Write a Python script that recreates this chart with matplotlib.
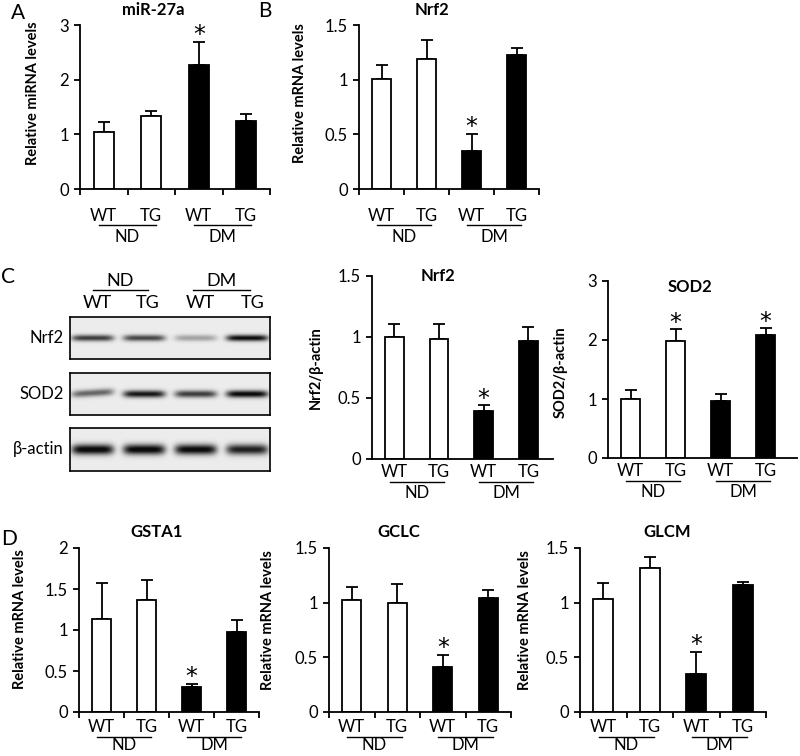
import numpy as np
import matplotlib.pyplot as plt
from matplotlib.transforms import blended_transform_factory

plt.rcParams['font.family'] = ['Lato', 'DejaVu Sans']

# --- Data ---
genotypes = ['WT', 'TG', 'WT', 'TG']
diets = ['ND', 'DM']
fills = ['white', 'white', 'black', 'black']

mir27a_mean = [1.05, 1.33, 2.27, 1.25]
mir27a_err = [0.18, 0.10, 0.41, 0.13]
mir27a_star = [False, False, True, False]

nrf2_mrna_mean = [1.01, 1.19, 0.35, 1.23]
nrf2_mrna_err = [0.12, 0.17, 0.15, 0.06]
nrf2_mrna_star = [False, False, True, False]

nrf2_prot_mean = [1.00, 0.98, 0.39, 0.97]
nrf2_prot_err = [0.11, 0.13, 0.05, 0.11]
nrf2_prot_star = [False, False, True, False]

sod2_prot_mean = [1.00, 1.99, 0.97, 2.09]
sod2_prot_err = [0.16, 0.19, 0.12, 0.11]
sod2_prot_star = [False, True, False, True]

gsta1_mean = [1.14, 1.36, 0.31, 0.97]
gsta1_err = [0.43, 0.25, 0.03, 0.15]
gsta1_star = [False, False, True, False]

gclc_mean = [1.02, 1.00, 0.41, 1.04]
gclc_err = [0.12, 0.17, 0.11, 0.08]
gclc_star = [False, False, True, False]

glcm_mean = [1.03, 1.32, 0.35, 1.16]
glcm_err = [0.15, 0.10, 0.20, 0.03]
glcm_star = [False, False, True, False]

# western blot band darkness per lane (0 = none, 1 = saturated)
blot_rows = ['Nrf2', 'SOD2', 'β-actin']
blot_nrf2 = [0.72, 0.68, 0.30, 0.92]
blot_sod2 = [0.55, 0.88, 0.72, 0.95]
blot_actin = [0.97, 0.97, 0.95, 0.85]

W, H = 800, 756
fig = plt.figure(figsize=(W / 100, H / 100), dpi=100)

FS = 12


def add_ax(l, r, t, b):
    return fig.add_axes([l / W, 1 - b / H, (r - l) / W, (b - t) / H])


def bar_panel(ax, box, mean, err, star, ymax, yticks, ylabels, title, tx, ty,
              ylabel, lx, ly, xticks=True, offs=(27, 36, 48), xr=3.5):
    l, r, t, b = box
    h = b - t
    x = np.arange(4)
    ax.bar(x, mean, width=0.42, color=fills, edgecolor='black', linewidth=1.3, zorder=2)
    ax.errorbar(x, mean, yerr=[np.zeros(4), err], fmt='none', ecolor='black',
                elinewidth=1.3, capsize=4, capthick=1.3, zorder=1)
    for i in range(4):
        if star[i]:
            ax.text(i, mean[i] + err[i] - 0.03 * ymax, '*', ha='center', va='bottom',
                    fontsize=17, family='DejaVu Sans')
    ax.set_xlim(-0.5, xr)
    ax.set_ylim(0, ymax)
    ax.set_yticks(yticks, labels=ylabels, fontsize=FS)
    for s in ['top', 'right']:
        ax.spines[s].set_visible(False)
    for s in ['left', 'bottom']:
        ax.spines[s].set_linewidth(1.3)
    ax.tick_params(axis='y', direction='out', length=4, width=1.3, pad=4)
    if xticks:
        ax.set_xticks(np.arange(-0.5, 4, 1.0), labels=[''] * 5)
        ax.tick_params(axis='x', direction='out', length=4, width=1.3)
    else:
        ax.set_xticks([])
    ax.text(tx, 1 + ty / h, title, transform=ax.transAxes, ha='center', va='center',
            fontsize=12, fontweight='bold')
    ax.set_ylabel(ylabel, fontsize=10.5, fontweight='bold')
    ax.yaxis.set_label_coords(-lx / (r - l), ly)
    tr = blended_transform_factory(ax.transData, ax.transAxes)
    for i in range(4):
        ax.text(i, -offs[0] / h, genotypes[i], transform=tr, ha='center', va='center',
                fontsize=FS)
    for k in range(2):
        x0 = 2 * k
        ax.plot([x0 - 0.1, x0 + 1.1], [-offs[1] / h] * 2, transform=tr, color='black',
                linewidth=1.0, clip_on=False)
        ax.text(x0 + 0.5, -offs[2] / h, diets[k], transform=tr, ha='center', va='center',
                fontsize=FS)


# --- Panel A ---
boxA = (80, 270, 25, 189)
axA = add_ax(*boxA)
bar_panel(axA, boxA, mir27a_mean, mir27a_err, mir27a_star, 3, [0, 1, 2, 3],
          ['0', '1', '2', '3'], 'miR-27a', 0.384, 15, 'Relative miRNA levels', 40, 0.585)

# --- Panel B ---
boxB = (359, 539, 25, 189)
axB = add_ax(*boxB)
bar_panel(axB, boxB, nrf2_mrna_mean, nrf2_mrna_err, nrf2_mrna_star, 1.5,
          [0, 0.5, 1, 1.5], ['0', '0.5', '1', '1.5'], 'Nrf2', 0.405, 15,
          'Relative mRNA levels', 52, 0.585)

# --- Panel C: blot ---
bl, br = 70, 270
strips = [(317, 359), (373, 415), (428, 471)]
band_vals = [blot_nrf2, blot_sod2, blot_actin]
band_thick = [3.2, 3.6, 5.2]
lane_w = (br - bl) / 4
for row, (t, b) in enumerate(strips):
    ax = add_ax(bl, br, t, b)
    hh = b - t
    xx = np.arange(br - bl) + 0.5
    yy = np.arange(hh) + 0.5
    X, Y = np.meshgrid(xx, yy)
    img = np.full(X.shape, 0.08)
    for i, v in enumerate(band_vals[row]):
        cx = (i + 0.5) * lane_w + (i - 1.5) * 1.5
        cy = hh / 2 - (1.0 if row == 1 and i == 0 else 0)
        tilt = (X - cx) * (-0.06 if row == 1 and i == 0 else 0.0)
        prof_x = np.exp(-((X - cx) / 21.0) ** 6)
        prof_y = np.exp(-((Y - cy - tilt) / band_thick[row]) ** 2)
        img += v * prof_x * prof_y
    ax.imshow(np.clip(img, 0, 1), cmap='gray_r', vmin=0, vmax=1.05, aspect='auto',
              extent=(0, br - bl, hh, 0), interpolation='bilinear')
    ax.set_xticks([])
    ax.set_yticks([])
    for s in ax.spines.values():
        s.set_linewidth(1.2)
    fig.text(64 / W, 1 - ((t + b) / 2) / H, blot_rows[row], ha='right', va='center',
             fontsize=FS)

lane_px = [97, 148, 200, 253]
for i in range(4):
    fig.text(lane_px[i] / W, 1 - 303 / H, genotypes[i], ha='center', va='center',
             fontsize=13)
for k, (x0, x1) in enumerate([(93, 148), (193, 250)]):
    fig.add_artist(plt.Line2D([x0 / W, x1 / W], [1 - 290 / H] * 2, color='black',
                              linewidth=1.0))
    fig.text((x0 + x1) / 2 / W, 1 - 281 / H, diets[k], ha='center', va='center',
             fontsize=13)

# --- Panel C: quantification ---
boxCn = (372, 553, 276, 459)
axCn = add_ax(*boxCn)
bar_panel(axCn, boxCn, nrf2_prot_mean, nrf2_prot_err, nrf2_prot_star, 1.5,
          [0, 0.5, 1, 1.5], ['0', '0.5', '1', '1.5'], 'Nrf2', 0.365, 0,
          'Nrf2/β-actin', 49, 0.5, xticks=False, offs=(13, 23, 34), xr=3.55)

boxCs = (608, 797, 281, 458)
axCs = add_ax(*boxCs)
bar_panel(axCs, boxCs, sod2_prot_mean, sod2_prot_err, sod2_prot_star, 3,
          [0, 1, 2, 3], ['0', '1', '2', '3'], 'SOD2', 0.434, -6,
          'SOD2/β-actin', 40, 0.486, xticks=False, offs=(13, 23, 34), xr=3.7)

# --- Panel D ---
offsD = (15, 25, 33)
boxD1 = (79, 259, 548, 712)
axD1 = add_ax(*boxD1)
bar_panel(axD1, boxD1, gsta1_mean, gsta1_err, gsta1_star, 2, [0, 0.5, 1, 1.5, 2],
          ['0', '0.5', '1', '1.5', '2'], 'GSTA1', 0.43, 16, 'Relative mRNA levels',
          52, 0.567, offs=offsD)

boxD2 = (329, 511, 548, 712)
axD2 = add_ax(*boxD2)
bar_panel(axD2, boxD2, gclc_mean, gclc_err, gclc_star, 1.5, [0, 0.5, 1, 1.5],
          ['0', '0.5', '1', '1.5'], 'GCLC', 0.385, 16, 'Relative mRNA levels',
          54, 0.56, offs=offsD)

boxD3 = (580, 766, 548, 712)
axD3 = add_ax(*boxD3)
bar_panel(axD3, boxD3, glcm_mean, glcm_err, glcm_star, 1.5, [0, 0.5, 1, 1.5],
          ['0', '0.5', '1', '1.5'], 'GLCM', 0.47, 16, 'Relative mRNA levels',
          48, 0.56, offs=offsD)

# --- Panel letters ---
for lab, px, py in [('A', 11, 13), ('B', 258, 11), ('C', 1, 277), ('D', 1, 539)]:
    fig.text(px / W, 1 - py / H, lab, ha='left', va='center', fontsize=15)

fig.savefig('out.png', dpi=100)
